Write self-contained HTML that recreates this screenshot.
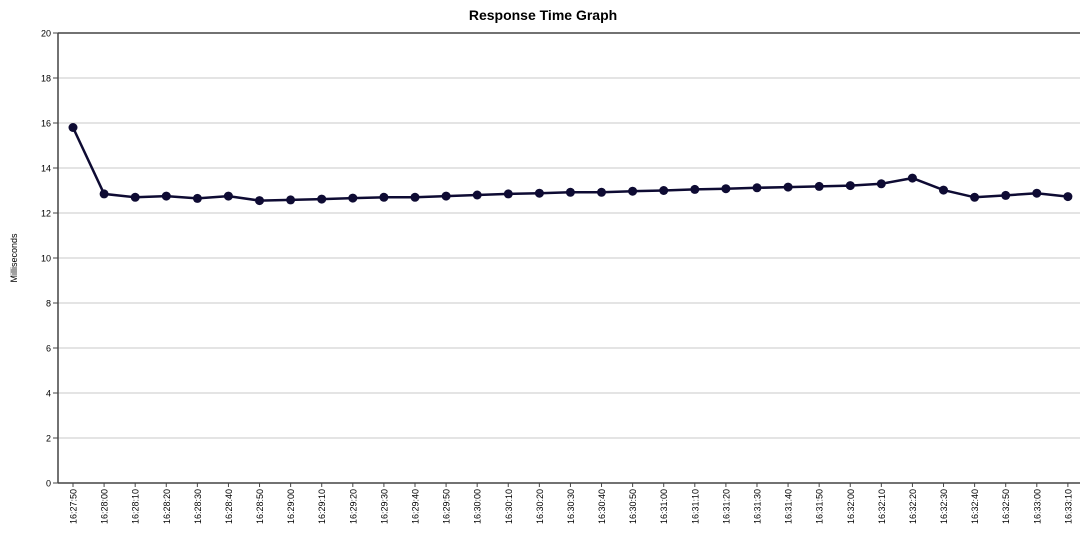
<!DOCTYPE html>
<html><head><style>body{margin:0;background:#fff}svg{display:block;font-family:"Liberation Sans",sans-serif}</style></head><body>
<svg id="s" width="1080" height="538" xmlns="http://www.w3.org/2000/svg">
<text x="543" y="20" text-anchor="middle" font-size="14" font-weight="bold">Response Time Graph</text>
<text transform="translate(17,258) rotate(-90)" text-anchor="middle" font-size="9">Milliseconds</text>
<g id="g"></g>
</svg>
<script>
var g=document.getElementById('g'),h='';
for(var i=0;i<=10;i++){var y=483-i*45;
if(i>0)h+='<line x1="58" x2="1080" y1="'+y+'" y2="'+y+'" stroke="'+(i==10?'#444':'#c8c8c8')+'" stroke-width="'+(i==10?1.5:1)+'"/>';
h+='<line x1="53" x2="58" y1="'+y+'" y2="'+y+'" stroke="#444"/>';
h+='<text x="51" y="'+(y+3.5)+'" text-anchor="end" font-size="9">'+(i*2)+'</text>';}
h+='<line x1="58" x2="58" y1="33" y2="483" stroke="#444" stroke-width="1.5"/>';
h+='<line x1="58" x2="1080" y1="483" y2="483" stroke="#444" stroke-width="1.5"/>';
var v=[15.8,12.85,12.7,12.75,12.65,12.75,12.55,12.58,12.62,12.66,12.7,12.7,12.75,12.8,12.85,12.88,12.92,12.92,12.97,13.0,13.05,13.08,13.12,13.15,13.18,13.22,13.3,13.55,13.02,12.7,12.78,12.88,12.73];
var pts=[],c='';
for(var k=0;k<33;k++){var x=73+k*31.09,y=483-v[k]*22.5;pts.push(x.toFixed(1)+','+y.toFixed(1));
c+='<circle cx="'+x.toFixed(1)+'" cy="'+y.toFixed(1)+'" r="4.5" fill="#0e0b33"/>';
h+='<line x1="'+x+'" x2="'+x+'" y1="483" y2="487" stroke="#444"/>';
var s=27*60*60+0; var t=16*3600+27*60+50+k*10;var hh=Math.floor(t/3600),mm=Math.floor(t%3600/60),ss=t%60;
var lab=hh+':'+(mm<10?'0':'')+mm+':'+(ss<10?'0':'')+ss;
h+='<text transform="translate('+(x+3.5)+',489) rotate(-90)" text-anchor="end" font-size="9">'+lab+'</text>';}
h+='<polyline points="'+pts.join(' ')+'" fill="none" stroke="#0e0b33" stroke-width="2.5"/>'+c;
g.innerHTML=h;
</script>
</body></html>
